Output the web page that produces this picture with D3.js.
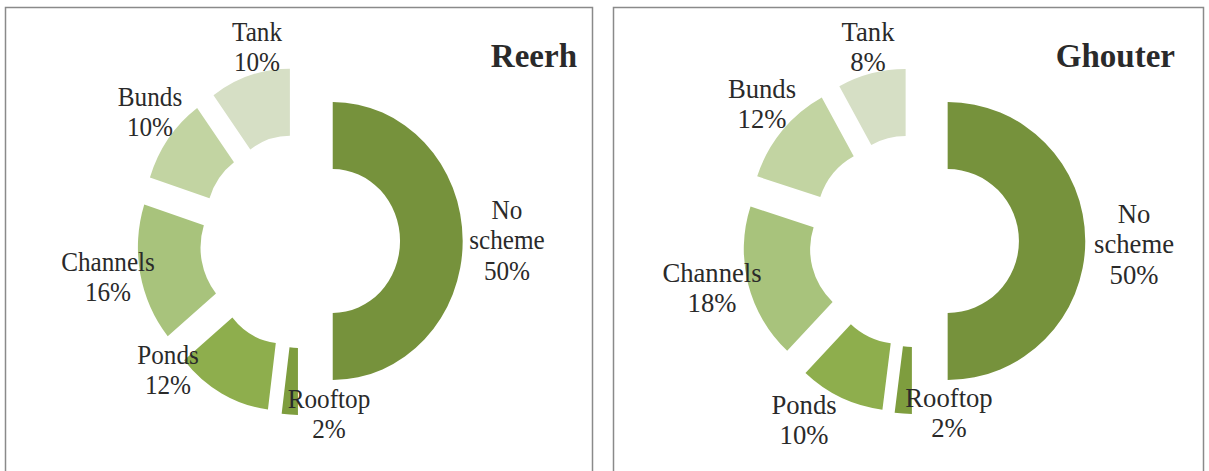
<!DOCTYPE html>
<html>
<head>
<meta charset="utf-8">
<script src="https://cdn.jsdelivr.net/npm/d3@7"></script>
<style>
  html, body { margin: 0; padding: 0; background: #fff; }
  svg { display: block; }
  text { font-family: "Liberation Serif", "Times New Roman", serif; fill: #2a2a2a; }
</style>
</head>
<body>
<svg id="chart" width="1209" height="471"></svg>
<script>
// categories, clockwise from 12 o'clock
var categories = ['No scheme', 'Rooftop', 'Ponds', 'Channels', 'Bunds', 'Tank'];
var reerhValues = [50, 2, 12, 16, 10, 10];
var ghouterValues = [50, 2, 10, 18, 12, 8];
var titles = ['Reerh', 'Ghouter'];

var colors = ['#76923c', '#7e9d3e', '#8eae4d', '#a8c37c', '#c2d4a2', '#d6dfc5'];

// layout of each panel (positions only)
var panels = [
    {title: titles[0], values: reerhValues, box: [5, 7, 587], cx: 300, cy: 241, sx: 0.935, explode: 35,
     titleX: 577,
     labels: [[507, 219], [329, 408], [168, 364], [108, 271], [150, 106], [257, 41]]},
    {title: titles[1], values: ghouterValues, box: [613, 7, 590], cx: 914, cy: 241, sx: 0.99, explode: 34,
     titleX: 1175,
     labels: [[1134, 223], [949, 407], [804, 414], [712, 282], [762, 98], [868, 41]]}
];

var outerR = 139, innerR = 72, lineH = 30.5;

var svg = d3.select('#chart');

var pie = d3.pie().sort(null).value(function (d) { return d.value; });
var arc = d3.arc().innerRadius(innerR).outerRadius(outerR);

function labelLines(name, value) {
    var words = name === 'No scheme' ? ['No', 'scheme'] : [name];
    return words.concat([value + '%']);
}

panels.forEach(function (p) {
    var g = svg.append('g').attr('class', 'panel');

    g.append('rect')
        .attr('x', p.box[0] + 0.5)
        .attr('y', p.box[1] + 0.5)
        .attr('width', p.box[2])
        .attr('height', 500)
        .attr('fill', 'none')
        .attr('stroke', '#8a8a8a')
        .attr('stroke-width', 1.5);

    var data = categories.map(function (c, i) { return {name: c, value: p.values[i]}; });
    var arcs = pie(data);

    var donut = g.append('g')
        .attr('transform', 'translate(' + p.cx + ',' + p.cy + ') scale(' + p.sx + ',1)');

    donut.selectAll('path')
        .data(arcs)
      .enter()
      .append('path')
        .attr('d', arc)
        .attr('fill', function (d, i) { return colors[i]; })
        .attr('transform', function (d) {
            var mid = (d.startAngle + d.endAngle) / 2;
            return 'translate(' + (Math.sin(mid) * p.explode) + ',' + (-Math.cos(mid) * p.explode) + ')';
        });

    var labels = g.selectAll('.label')
        .data(arcs)
      .enter()
      .append('text')
        .attr('class', 'label')
        .attr('text-anchor', 'middle')
        .attr('font-size', 27.5)
        .attr('transform', function (d, i) {
            return 'translate(' + p.labels[i][0] + ',' + p.labels[i][1] + ') scale(' + (p.sx * 0.98) + ',1)';
        });

    labels.each(function (d) {
        var t = d3.select(this);
        labelLines(d.data.name, d.data.value).forEach(function (line, k) {
            t.append('tspan')
                .attr('x', 0)
                .attr('y', k * lineH)
                .text(line);
        });
    });

    g.append('text')
        .attr('text-anchor', 'end')
        .attr('font-size', 33)
        .attr('font-weight', 'bold')
        .attr('fill', '#111')
        .attr('transform', 'translate(' + p.titleX + ',67)')
        .text(p.title);
});
</script>
</body>
</html>
